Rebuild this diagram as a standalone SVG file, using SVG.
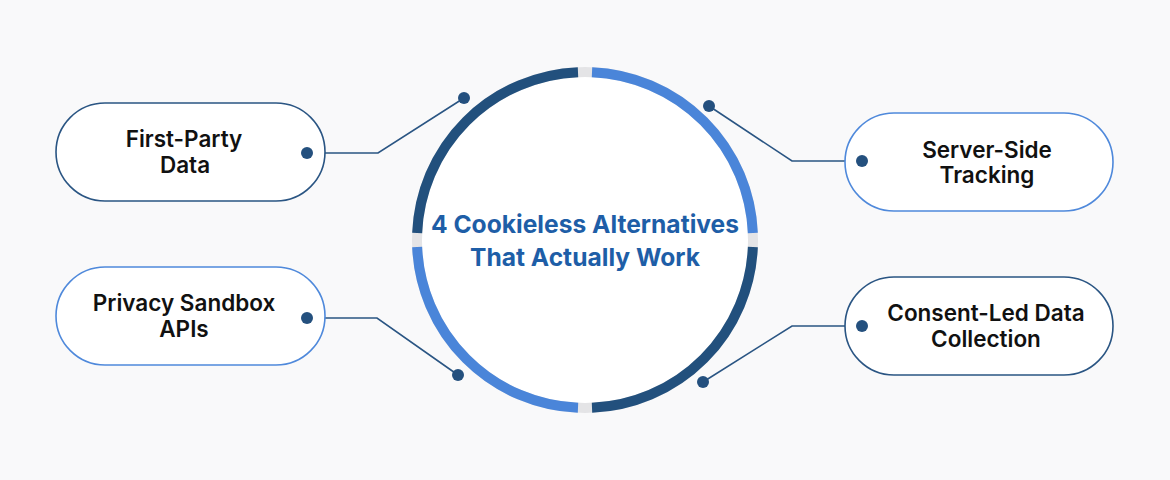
<svg xmlns="http://www.w3.org/2000/svg" width="1170" height="480" viewBox="0 0 1170 480">
<style>
.bg{fill:#f9f9fa}
.pill{fill:#ffffff;stroke-width:1.6}
.dark{stroke:#2a5583}
.light{stroke:#4f89db}
.lbl{font-family:Inter,"Liberation Sans",sans-serif;font-weight:600;font-size:22.5px;fill:#111111;text-anchor:middle}
.title{font-family:Inter,"Liberation Sans",sans-serif;font-weight:700;font-size:24.6px;fill:#1e5ea7;text-anchor:middle}
.con{fill:none;stroke:#2a5583;stroke-width:1.6}
.dot{fill:#24507e}
.arc{fill:none;stroke-width:10}
</style>
<rect class="bg" x="0" y="0" width="1170" height="480"/>
<g id="hub">
<circle cx="585" cy="240" r="168" fill="#ffffff" stroke="#e4e4e6" stroke-width="10"/>
<path class="arc" stroke="#22507d" d="M417.15,233 A168,168 0 0 1 578,72.15"/>
<path class="arc" stroke="#4a85d9" d="M592,72.15 A168,168 0 0 1 752.85,233"/>
<path class="arc" stroke="#22507d" d="M752.85,247 A168,168 0 0 1 592,407.85"/>
<path class="arc" stroke="#4a85d9" d="M578,407.85 A168,168 0 0 1 417.15,247"/>
<text class="title" x="585" y="233">4 Cookieless Alternatives</text>
<text class="title" x="585" y="266">That Actually Work</text>
</g>
<g id="connectors">
<polyline class="con" points="307,153 378,153 464,98"/>
<circle class="dot" cx="464" cy="98" r="6"/>
<polyline class="con" points="862,161 792,161 709,106"/>
<circle class="dot" cx="709" cy="106" r="6"/>
<polyline class="con" points="307,318 377,318 458,375"/>
<circle class="dot" cx="458" cy="375" r="6"/>
<polyline class="con" points="862,326 792,326 703,382"/>
<circle class="dot" cx="703" cy="382" r="6"/>
</g>
<g id="first-party">
<rect class="pill dark" x="56" y="103" width="269" height="98" rx="49"/>
<text class="lbl" x="184" y="147">First-Party</text>
<text class="lbl" x="185" y="173">Data</text>
<circle class="dot" cx="307" cy="153" r="6"/>
</g>
<g id="server-side">
<rect class="pill light" x="845" y="113" width="268" height="98" rx="49"/>
<text class="lbl" x="987" y="158">Server-Side</text>
<text class="lbl" x="987" y="183">Tracking</text>
<circle class="dot" cx="862" cy="161" r="6"/>
</g>
<g id="privacy-sandbox">
<rect class="pill light" x="56" y="267" width="269" height="98" rx="49"/>
<text class="lbl" x="184" y="311">Privacy Sandbox</text>
<text class="lbl" x="184" y="337">APIs</text>
<circle class="dot" cx="307" cy="318" r="6"/>
</g>
<g id="consent-led">
<rect class="pill dark" x="845" y="277" width="268" height="98" rx="49"/>
<text class="lbl" x="986" y="321">Consent-Led Data</text>
<text class="lbl" x="986" y="347">Collection</text>
<circle class="dot" cx="862" cy="326" r="6"/>
</g>
</svg>
